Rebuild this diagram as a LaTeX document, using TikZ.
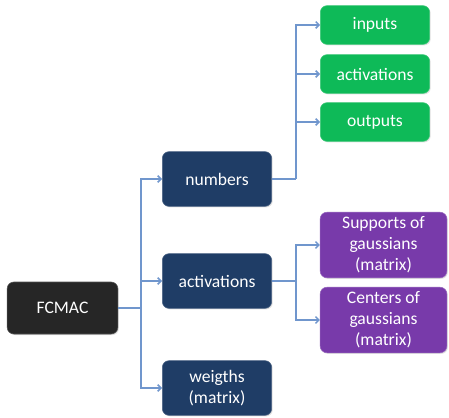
\documentclass[tikz,border=0pt]{standalone}
\usepackage{fontspec}
\setmainfont{Carlito}
\usepackage{tikz}
\usetikzlibrary{positioning, arrows.meta, shadows}
\definecolor{boxblack}{RGB}{38,38,38}
\definecolor{boxblue}{RGB}{31,61,102}
\definecolor{boxgreen}{RGB}{14,186,88}
\definecolor{boxpurple}{RGB}{120,58,170}
\definecolor{linkblue}{RGB}{112,150,205}
\tikzset{
    >={Straight Barb[length=2.5pt,width=5pt]}, % thin open arrow heads
    link/.style={draw=linkblue, line width=1.1pt}, % the elbow connectors
    box/.style={rounded corners=5pt, text=white, align=center,
        font=\fontsize{13.2}{15.8}\selectfont,
        drop shadow={opacity=0.25, shadow xshift=0.8pt, shadow yshift=-0.8pt}},
    rootbox/.style={box, fill=boxblack, draw=boxblack!80!white,
        minimum width=83pt, minimum height=39pt},
    midbox/.style={box, fill=boxblue, draw=boxblue!80!white,
        minimum width=82pt, minimum height=41pt},
    leafbox/.style={box, fill=boxgreen, draw=boxgreen!80!white,
        minimum width=82pt, minimum height=29pt},
    matbox/.style={box, fill=boxpurple, draw=boxpurple!80!white,
        minimum width=95pt, minimum height=48pt},
    }

\begin{document}
\begin{tikzpicture}[x=0.75pt, y=-0.75pt]
    \useasboundingbox (0,0) rectangle (449,417);
    % root and its three children
    \node[rootbox] (fcmac) at (62.5,308) {FCMAC};
    \node[midbox] (num) at (217,179) {numbers};
    \node[midbox] (act) at (217,281) {activations};
    \node[midbox] (wts) at (217,388) {weigths\\(matrix)};
    % children of numbers
    \node[leafbox] (inp) at (375,25) {inputs};
    \node[leafbox] (lact) at (375,74) {activations};
    \node[leafbox] (outp) at (375,122) {outputs};
    % children of activations
    \node[matbox] (sup) at (383.5,245) {Supports of\\gaussians\\(matrix)};
    \node[matbox] (cen) at (383.5,320) {Centers of\\gaussians\\(matrix)};

    % elbow joints
    \coordinate (j1) at (141,308);
    \coordinate (j2) at (296,179);
    \coordinate (j3) at (296,281);

    \draw[link] (fcmac.east) -- (j1);
    \draw[link, ->] (j1) |- (num.west);
    \draw[link, ->] (j1) |- (act.west);
    \draw[link, ->] (j1) |- (wts.west);

    \draw[link] (num.east) -- (j2);
    \draw[link, ->] (j2) |- (inp.west);
    \draw[link, ->] (j2) |- (lact.west);
    \draw[link, ->] (j2) |- (outp.west);

    \draw[link] (act.east) -- (j3);
    \draw[link, ->] (j3) |- (sup.west);
    \draw[link, ->] (j3) |- (cen.west);
\end{tikzpicture}
\end{document}
